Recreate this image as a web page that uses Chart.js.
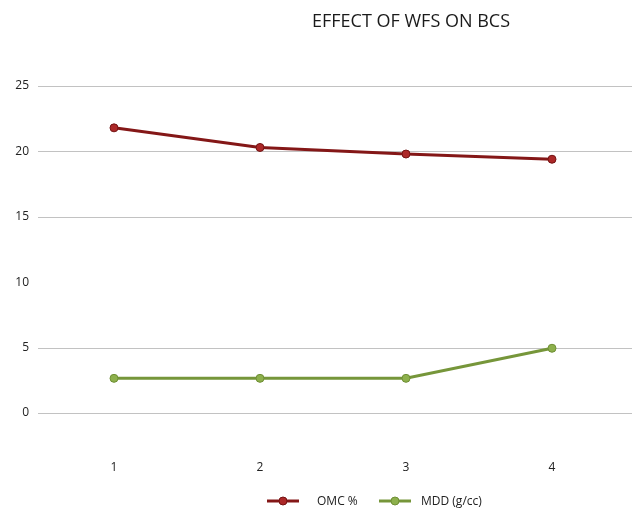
<!DOCTYPE html>
<html>
<head>
<meta charset="utf-8">
<script src="https://cdn.jsdelivr.net/npm/chart.js@4/dist/chart.umd.min.js"></script>
<style>
  html, body { margin: 0; padding: 0; background: #ffffff; }
  #wrap { width: 635px; height: 510px; position: relative; }
</style>
</head>
<body>
<div id="wrap"><canvas id="c" width="635" height="510"></canvas></div>
<script>
// Sample number (x axis)
const categories = ['1', '2', '3', '4'];
// Optimum moisture content, %
const omcValues = [21.8, 20.3, 19.8, 19.4];
// Maximum dry density, g/cc
const mddValues = [2.65, 2.65, 2.65, 4.95];
// Value axis ticks, and the ones that carry a horizontal rule
const yTicks = [0, 5, 10, 15, 20, 25];
const ruledTicks = [0, 5, 15, 20, 25];
const chartTitle = 'EFFECT OF WFS ON BCS';

const FONT = '"Open Sans", "Liberation Sans", sans-serif';

// Title centred over the right part of the plot
const titlePlugin = {
  id: 'sideTitle',
  afterDraw(chart) {
    const ctx = chart.ctx;
    ctx.save();
    ctx.font = '18px ' + FONT;
    ctx.fillStyle = '#1a1a1a';
    ctx.textAlign = 'center';
    ctx.textBaseline = 'middle';
    ctx.fillText(chartTitle, 411, 22);
    ctx.restore();
  }
};

// Horizontal rules at selected ticks, running slightly past the plot edges
const rulesPlugin = {
  id: 'rules',
  beforeDatasetsDraw(chart) {
    const ctx = chart.ctx;
    const y = chart.scales.y;
    const area = chart.chartArea;
    ctx.save();
    ctx.strokeStyle = '#c2c2c2';
    ctx.lineWidth = 1;
    ruledTicks.forEach(v => {
      const py = Math.round(y.getPixelForValue(v)) + 0.5;
      ctx.beginPath();
      ctx.moveTo(area.left - 3, py);
      ctx.lineTo(area.right + 7, py);
      ctx.stroke();
    });
    ctx.restore();
  }
};

// Legend with line-and-marker swatches under the axis labels
const legendPlugin = {
  id: 'lineLegend',
  afterDraw(chart) {
    const ctx = chart.ctx;
    const y = 501;
    const items = [{ x: 267, tx: 317 }, { x: 379, tx: 421 }];
    ctx.save();
    ctx.font = '12px ' + FONT;
    ctx.textBaseline = 'middle';
    chart.data.datasets.forEach((ds, i) => {
      const x0 = items[i].x;
      ctx.strokeStyle = ds.borderColor;
      ctx.lineWidth = 3;
      ctx.beginPath();
      ctx.moveTo(x0, y);
      ctx.lineTo(x0 + 32, y);
      ctx.stroke();
      ctx.beginPath();
      ctx.arc(x0 + 16, y, 4, 0, Math.PI * 2);
      ctx.fillStyle = ds.pointBackgroundColor;
      ctx.fill();
      ctx.lineWidth = 1;
      ctx.strokeStyle = ds.pointBorderColor;
      ctx.stroke();
      ctx.fillStyle = '#222222';
      ctx.textAlign = 'left';
      ctx.fillText(ds.label, items[i].tx, y + 1);
    });
    ctx.restore();
  }
};

new Chart(document.getElementById('c'), {
  type: 'line',
  data: {
    labels: categories,
    datasets: [
      {
        label: 'OMC %',
        data: omcValues,
        borderColor: '#841717',
        borderWidth: 3,
        pointRadius: 4,
        pointBorderWidth: 1,
        pointBackgroundColor: '#ac2828',
        pointBorderColor: '#741313',
        tension: 0
      },
      {
        label: 'MDD (g/cc)',
        data: mddValues,
        borderColor: '#76963a',
        borderWidth: 3,
        pointRadius: 4,
        pointBorderWidth: 1,
        pointBackgroundColor: '#8db04c',
        pointBorderColor: '#6f8f35',
        tension: 0
      }
    ]
  },
  options: {
    responsive: false,
    animation: false,
    layout: { padding: { top: 86, right: 10, bottom: 37, left: 12 } },
    plugins: {
      legend: { display: false },
      title: { display: false },
      tooltip: { enabled: false }
    },
    scales: {
      x: {
        offset: true,
        grid: { display: false, drawTicks: false },
        border: { display: false },
        afterFit(scale) { scale.height = 60; },
        ticks: {
          padding: 47,
          color: '#222222',
          font: { family: FONT, size: 12 }
        }
      },
      y: {
        min: 0,
        max: 25,
        afterBuildTicks(scale) {
          scale.ticks = yTicks.map(v => ({ value: v }));
        },
        afterFit(scale) { scale.width = 29; },
        grid: { display: false, drawTicks: false },
        border: { display: false },
        ticks: {
          padding: 12,
          color: '#222222',
          font: { family: FONT, size: 12 }
        }
      }
    }
  },
  plugins: [titlePlugin, rulesPlugin, legendPlugin]
});
</script>
</body>
</html>
